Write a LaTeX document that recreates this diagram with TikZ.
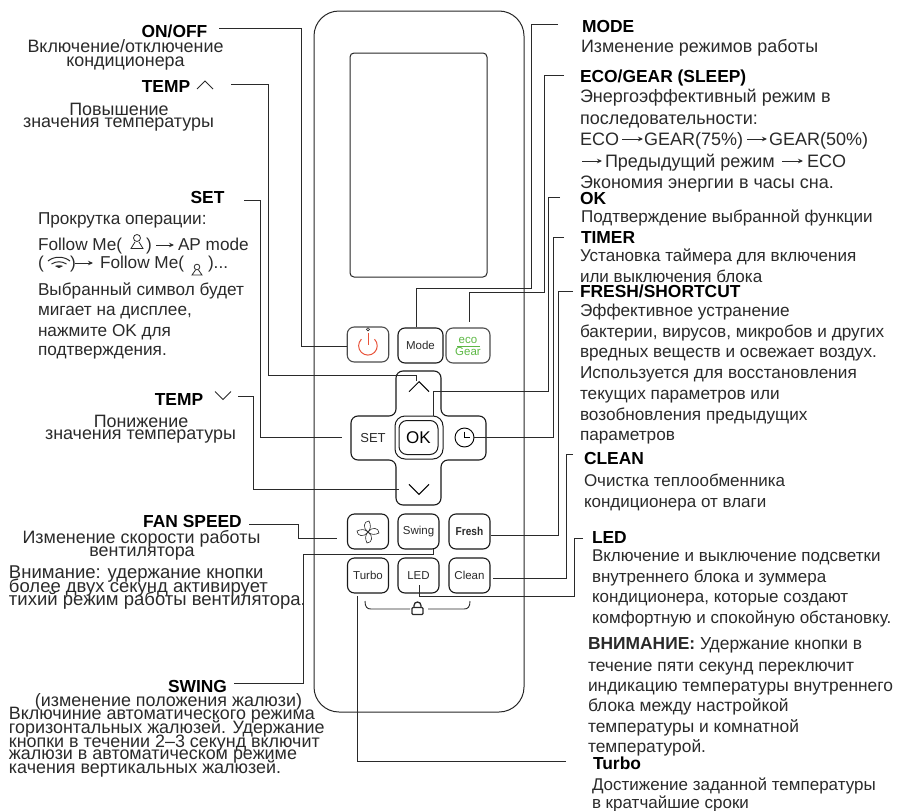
\documentclass[tikz,border=0pt]{standalone}
\usepackage{fontspec}
\setmainfont{Liberation Sans}
\usetikzlibrary{arrows.meta}
\definecolor{ink}{HTML}{2A2A2A}
\definecolor{redp}{HTML}{E8533A}
\definecolor{greene}{HTML}{5DB845}
\def\sz{17}
\tikzset{
  x=1pt,y=-1pt,
  txt/.style={inner sep=0pt,outer sep=0pt,text=ink,font=\fontsize{\sz}{18}\selectfont},
  head/.style={txt,font=\fontsize{17.4}{18}\selectfont\bfseries,text=black},
  conn/.style={draw=ink,line width=1pt},
  btn/.style={draw=black!90,line width=1.1pt,rounded corners=7pt,inner sep=0pt,text=ink,font=\fontsize{11.5}{12}\selectfont,minimum width=41pt,minimum height=35pt},
  ic/.style={draw=ink,line width=.9pt},
  sarrow/.style={draw=ink,line width=.9pt,-{Stealth[length=5pt,width=4.5pt]}},
}
\newcommand\tw[4]{\node[txt,anchor=base west] (#1) at (#2,#3) {#4};}
\newcommand\tc[4]{\node[txt,anchor=base] (#1) at (#2,#3) {#4};}
\newcommand\hw[4]{\node[head,anchor=base west] (#1) at (#2,#3) {#4};}
\begin{document}
\begin{tikzpicture}
\useasboundingbox (0,0) rectangle (897,811);
% remote body
\draw[line width=1pt,draw=black!85,rounded corners=25pt] (314,11) rectangle (524,712);
\draw[line width=1pt,draw=black!85,rounded corners=4pt] (350,53) rectangle (487,277);
% buttons
\node[btn,draw=black!70,minimum width=41.5pt] (power) at (368,344.5) {};
\node[btn,minimum width=45pt] (mode) at (420.5,345.5) {Mode};
\node[btn,minimum width=44pt,draw=black!70] (eco) at (468,345.5) {};
\draw[line width=1pt,draw=redp] (368,333) -- (368,345);
\draw[line width=1pt,draw=redp] (374.5,339.2) arc[start angle=-45,end angle=225,radius=9.3];
\draw[line width=.6pt,draw=ink] (368,329.3) circle[radius=1.6];
\node[inner sep=0pt,text=greene,font=\fontsize{11.5}{12}\selectfont] (ecot) at (468,340) {eco};
\node[inner sep=0pt,text=greene,font=\fontsize{11.5}{12}\selectfont] (geart) at (468,352) {Gear};
\draw[greene,line width=1pt] (457,346.3) -- (480,346.3);
% cross
\draw[line width=1.1pt,draw=black!90,rounded corners=7pt] (396,371) -- (441,371) -- (441,416) -- (486,416) -- (486,460) -- (441,460) -- (441,505) -- (396,505) -- (396,460) -- (351,460) -- (351,416) -- (396,416) -- cycle;
\node[draw=black!90,line width=1pt,rounded corners=10pt,minimum width=48pt,minimum height=43pt,inner sep=0pt] (okout) at (419,437.5) {};
\node[draw=black!90,line width=1pt,rounded corners=8pt,minimum width=39pt,minimum height=34pt,inner sep=0pt,text=black,font=\fontsize{17}{18}\selectfont] (ok) at (418.5,437.5) {OK};
\node[txt,font=\fontsize{13}{14}\selectfont] (setb) at (373,438) {SET};
\node[draw=black,line width=.9pt,circle,minimum size=19pt,inner sep=0pt] (timer) at (464.5,437.5) {};
\draw[line width=.9pt,draw=black] (464.5,431.7) -- (464.5,437.5) -- (470,437.5);
\draw[line width=1pt,draw=black] (409,391.7) -- (419,381.7) -- (429,391.7);
\draw[line width=1pt,draw=black] (409,484.3) -- (419,494.3) -- (429,484.3);
% rows
\node[btn] (fan) at (368,531.5) {};
\node[btn] (swing) at (418.5,531.5) {Swing};
\node[btn,font=\fontsize{11.5}{12}\selectfont\bfseries] (fresh) at (469.5,531.5) {\scalebox{.88}[1]{Fresh}};
\node[btn] (turbo) at (368,575.5) {Turbo};
\node[btn] (led) at (418.5,575.5) {LED};
\node[btn] (clean) at (469.5,575.5) {Clean};
\foreach \a in {0,90,180,270}{
  \draw[ic,line width=.6pt,shift={(368,532)},rotate=\a] (0,0) .. controls (-5.5,-3.5) and (-4.5,-11) .. (1,-11) .. controls (3,-7) and (3,-3) .. (0,0);
}
% lock bracket
\draw[ic] (365,601) .. controls (365,607) and (367,609) .. (371,609) -- (410,609);
\draw[ic] (428,609) -- (464,609) .. controls (468,609) and (470,607) .. (470,601);
\draw[ic,line width=1.3pt,rounded corners=1pt] (412,607.5) rectangle (423,614.5);
\draw[ic,line width=1.3pt] (414,607.5) -- (414,605.5) arc[start angle=180,end angle=360,radius=3.5] -- (421,607.5);
% left labels
\def\sz{17.9}
\node[head,anchor=base] (lonoff) at (174.5,37) {ON/OFF};
\tc{l1}{125.5}{52}{Включение/отключение}
\tc{l2}{125.5}{66.5}{кондиционера}
\node[head,anchor=base] (ltempu) at (166,92.7) {TEMP};
\draw[ic,line width=.8pt] (197,89) -- (205,81) -- (213,89);
\tc{l3}{119}{115}{Повышение}
\tc{l4}{118.5}{127}{значения температуры}
\node[head,anchor=base] (lset) at (207.5,203) {SET};
\def\sz{17.2}
\tw{s1}{38}{224}{Прокрутка операции:}
\tw{s2}{38}{250}{Follow Me(}
\draw[ic,line width=.8pt] (137,238) circle[radius=3.5];
\draw[ic,line width=.8pt] (135,242) -- (131,248.5) -- (143,248.5) -- (139,242);
\tw{s3}{146}{250}{)}
\coordinate (s3a) at (156,245); \coordinate (s3b) at (174,245);
\draw[sarrow] (s3a) -- (s3b);
\tw{s4}{178}{250}{AP mode}
\tw{s5}{38}{268}{(}
\draw[ic,line width=1pt] (48,261) .. controls (54,256) and (64,256) .. (70,261);
\draw[ic,line width=1pt] (51.5,264) .. controls (56,261) and (62,261) .. (66.5,264);
\fill[ink] (59,268) -- (55,266) .. controls (57,265) and (61,265) .. (63,266) -- cycle;
\tw{s6}{70}{268}{)}
\coordinate (s6a) at (75,263); \coordinate (s6b) at (93,263);
\draw[sarrow] (s6a) -- (s6b);
\tw{s7}{100}{268}{Follow Me(}
\draw[ic,line width=.8pt] (197,267) circle[radius=2.8];
\draw[ic,line width=.8pt] (195.5,270) -- (192,275) -- (202,275) -- (198.5,270);
\tw{s8}{208}{268}{)...}
\tw{s9}{38}{295}{Выбранный символ будет}
\tw{s10}{38}{315}{мигает на дисплее,}
\tw{s11}{38}{336}{нажмите OK для}
\tw{s12}{38}{355}{подтверждения.}
\def\sz{17.9}
\node[head,anchor=base] (ltempd) at (179,405) {TEMP};
\draw[ic,line width=.8pt] (215,391.5) -- (223,399.5) -- (231,391.5);
\tc{t1}{141}{427}{Понижение}
\tc{t2}{140.5}{439}{значения температуры}
\node[head,anchor=base] (lfan) at (192.5,527) {FAN SPEED};
\tc{f1}{141.5}{543}{Изменение скорости работы}
\tc{f2}{142}{556}{вентилятора}
\def\sz{18.5}
\tw{f3}{9}{578}{Внимание: удержание кнопки}
\tw{f4}{9}{592}{более двух секунд активирует}
\tw{f5}{9}{605}{тихий режим работы вентилятора.}
\def\sz{17.9}
\node[head,anchor=base] (lswing) at (197.5,692) {SWING};
\tc{w1}{168.5}{706}{(изменение положения жалюзи)}
\tw{w2}{9}{719}{Включиние автоматического режима}
\tw{w3}{9}{733}{горизонтальных жалюзей. Удержание}
\tw{w4}{9}{747}{кнопки в течении 2–3 секунд включит}
\tw{w5}{9}{759}{жалюзи в автоматическом режиме}
\tw{w6}{9}{773}{качения вертикальных жалюзей.}
% right labels
\hw{rmode}{582}{32}{MODE}
\tw{r1}{581}{52}{Изменение режимов работы}
\hw{reco}{580}{82}{ECO/GEAR (SLEEP)}
\def\sz{18}
\tw{r2}{580}{102}{Энергоэффективный режим в}
\tw{r3}{580}{124}{последовательности:}
\tw{e1}{580}{145}{ECO}
\coordinate (e1a) at (622,139); \coordinate (e1b) at (643,139);
\draw[sarrow] (e1a) -- (e1b);
\tw{e2}{644}{145}{GEAR(75\%)}
\coordinate (e2a) at (747,139); \coordinate (e2b) at (767,139);
\draw[sarrow] (e2a) -- (e2b);
\tw{e3}{769}{145}{GEAR(50\%)}
\coordinate (e3a) at (582,161); \coordinate (e3b) at (602,161);
\draw[sarrow] (e3a) -- (e3b);
\tw{e4}{605}{167}{Предыдущий режим}
\coordinate (e4a) at (782,161); \coordinate (e4b) at (803,161);
\draw[sarrow] (e4a) -- (e4b);
\tw{e5}{807}{167}{ECO}
\tw{r4}{580}{188}{Экономия энергии в часы сна.}
\def\sz{17.05}
\hw{rok}{580}{204}{OK}
\tw{r5}{581}{222}{Подтверждение выбранной функции}
\hw{rtim}{581}{243}{TIMER}
\tw{r6}{580}{261}{Установка таймера для включения}
\tw{r7}{580}{282}{или выключения блока}
\hw{rfresh}{580}{297}{FRESH/SHORTCUT}
\def\sz{17.2}
\tw{r8}{580}{316}{Эффективное устранение}
\tw{r9}{580}{337}{бактерии, вирусов, микробов и других}
\tw{r10}{580}{357}{вредных веществ и освежает воздух.}
\tw{r11}{580}{378}{Используется для восстановления}
\tw{r12}{580}{399}{текущих параметров или}
\tw{r13}{580}{420}{возобновления предыдущих}
\tw{r14}{580}{440}{параметров}
\def\sz{17}
\hw{rclean}{584}{464}{CLEAN}
\tw{r15}{584}{486}{Очистка теплообменника}
\tw{r16}{584}{507}{кондиционера от влаги}
\hw{rled}{592}{543}{LED}
\tw{r17}{592}{561}{Включение и выключение подсветки}
\tw{r18}{592}{582}{внутреннего блока и зуммера}
\tw{r19}{592}{602}{кондиционера, которые создают}
\tw{r20}{592}{623}{комфортную и спокойную обстановку.}
\def\sz{17.4}
\tw{r21}{588}{649}{\textbf{ВНИМАНИЕ:} Удержание кнопки в}
\tw{r22}{588}{671}{течение пяти секунд переключит}
\tw{r23}{588}{691}{индикацию температуры внутреннего}
\tw{r24}{588}{711}{блока между настройкой}
\tw{r25}{588}{732}{температуры и комнатной}
\tw{r26}{588}{752}{температурой.}
\def\sz{17}
\hw{rturbo}{593}{769}{Turbo}
\tw{r27}{592}{790}{Достижение заданной температуры}
\tw{r28}{592}{808}{в кратчайшие сроки}
% connector free ends
\coordinate (aOn) at (219,28.5);
\coordinate (aTu) at (231,84.5);
\coordinate (aSet) at (244,200);
\coordinate (bSet) at (342,437.5);
\coordinate (bTu) at (416,381);
\coordinate (aTd) at (238,396.5);
\coordinate (bTd) at (399,489);
\coordinate (aFan) at (249,524);
\coordinate (bFan) at (337,538.5);
\coordinate (aSw) at (234,683);
\coordinate (aMode) at (558,24);
\coordinate (aEco) at (564,75.5);
\coordinate (bEco) at (469,322);
\coordinate (aOk) at (560,197);
\coordinate (aTim) at (564,237);
\coordinate (aFr) at (573,291);
\coordinate (aCl) at (573,454);
\coordinate (bCl) at (493,578);
\coordinate (aLed) at (583,538);
\coordinate (aTb) at (566,761);
\coordinate (bTb) at (357,596);
\coordinate (bLed) at (419,585);
% connectors
\draw[conn] (aOn) -| (301,346) -- ([yshift=-1.5pt]power.west);
\draw[conn] (aTu) -| (268,375) -| (bTu);
\draw[conn] (aSet) -| (260,437.5) -- (bSet);
\draw[conn] (aTd) -| (253.5,489) -- (bTd);
\draw[conn] (aFan) -| (298,538.5) -- (bFan);
\draw[conn] (aSw) -| (303,554.5) -| (433,549);
\draw[conn] (aMode) -| (531,288) -| ([xshift=-4.5pt]mode.north);
\draw[conn] (aEco) -| (544,292.5) -| (bEco);
\draw[conn] (aOk) -| (548.5,391.5) -| (433,416);
\draw[conn] (aTim) -| (553,437.5) -- (timer.east);
\draw[conn] (aFr) -| (558,535) -- (fresh.east |- 0,535);
\draw[conn] (aCl) -| (566,578) -- (bCl);
\draw[conn] (aLed) -| (574.5,596.5) -| (bLed);
\draw[conn] (aTb) -| (bTb);
\end{tikzpicture}
\end{document}
